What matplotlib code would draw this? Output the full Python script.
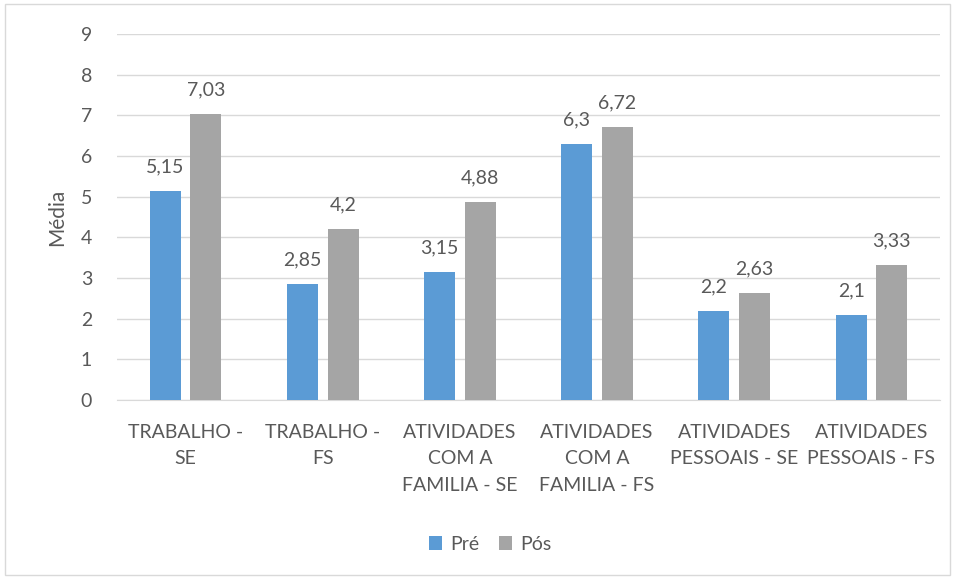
import matplotlib
matplotlib.use("Agg")
import matplotlib.pyplot as plt
import numpy as np
from matplotlib.patches import Rectangle

categories = ["TRABALHO -\nSE", "TRABALHO -\nFS", "ATIVIDADES\nCOM A\nFAMILIA - SE",
              "ATIVIDADES\nCOM A\nFAMILIA - FS", "ATIVIDADES\nPESSOAIS - SE",
              "ATIVIDADES\nPESSOAIS - FS"]
pre = [5.15, 2.85, 3.15, 6.3, 2.2, 2.1]
pos = [7.03, 4.2, 4.88, 6.72, 2.63, 3.33]
pre_labels = ["5,15", "2,85", "3,15", "6,3", "2,2", "2,1"]
pos_labels = ["7,03", "4,2", "4,88", "6,72", "2,63", "3,33"]
series_names = ["Pré", "Pós"]
yticks = list(range(0, 10))

plt.rcParams['font.family'] = ['Lato', 'DejaVu Sans']
txt = '#595959'
blue = '#5B9BD5'
gray = '#A5A5A5'

fig = plt.figure(figsize=(9.56, 5.79), dpi=100)
fig.patches.append(Rectangle((5/956, 4/579), 945/956, 571/579, transform=fig.transFigure,
                             fill=False, edgecolor='#D9D9D9', linewidth=1))
ax = fig.add_axes([117/956, 1 - 400/579, 823/956, 366/579])

x = np.arange(len(categories))
w = 0.226
off = 0.148
b1 = ax.bar(x - off, pre, w, color=blue, label=series_names[0], zorder=3)
b2 = ax.bar(x + off, pos, w, color=gray, label=series_names[1], zorder=3)
for rect, lab in zip(b1, pre_labels):
    ax.text(rect.get_x() + rect.get_width()/2, rect.get_height() + 0.38, lab,
            ha='center', va='bottom', fontsize=14, color=txt)
for rect, lab in zip(b2, pos_labels):
    ax.text(rect.get_x() + rect.get_width()/2, rect.get_height() + 0.38, lab,
            ha='center', va='bottom', fontsize=14, color=txt)

ax.set_xlim(-0.5, len(categories) - 0.5)
ax.set_ylim(0, 9)
ax.set_yticks(yticks)
ax.set_yticklabels([str(t) for t in yticks], fontsize=14, color=txt)
ax.yaxis.grid(True, color='#D9D9D9', linewidth=1, zorder=0)
ax.set_xticks(x)
ax.set_xticklabels(categories, fontsize=14, color=txt, linespacing=1.7)
ax.tick_params(axis='both', length=0)
ax.tick_params(axis='x', pad=17)
ax.tick_params(axis='y', pad=18)
for s in ['top', 'right', 'left']:
    ax.spines[s].set_visible(False)
ax.spines['bottom'].set_color('#D9D9D9')
ax.set_ylabel("Média", fontsize=15, color=txt, labelpad=10)

fig.legend(handles=[b1, b2], labels=series_names, loc='center', bbox_to_anchor=(490/956, 1 - 544/579),
           ncol=2, frameon=False, fontsize=14, labelcolor=txt, handlelength=0.7, handleheight=0.7,
           handletextpad=0.4, columnspacing=1.0)

fig.savefig("out.png", dpi=100)
